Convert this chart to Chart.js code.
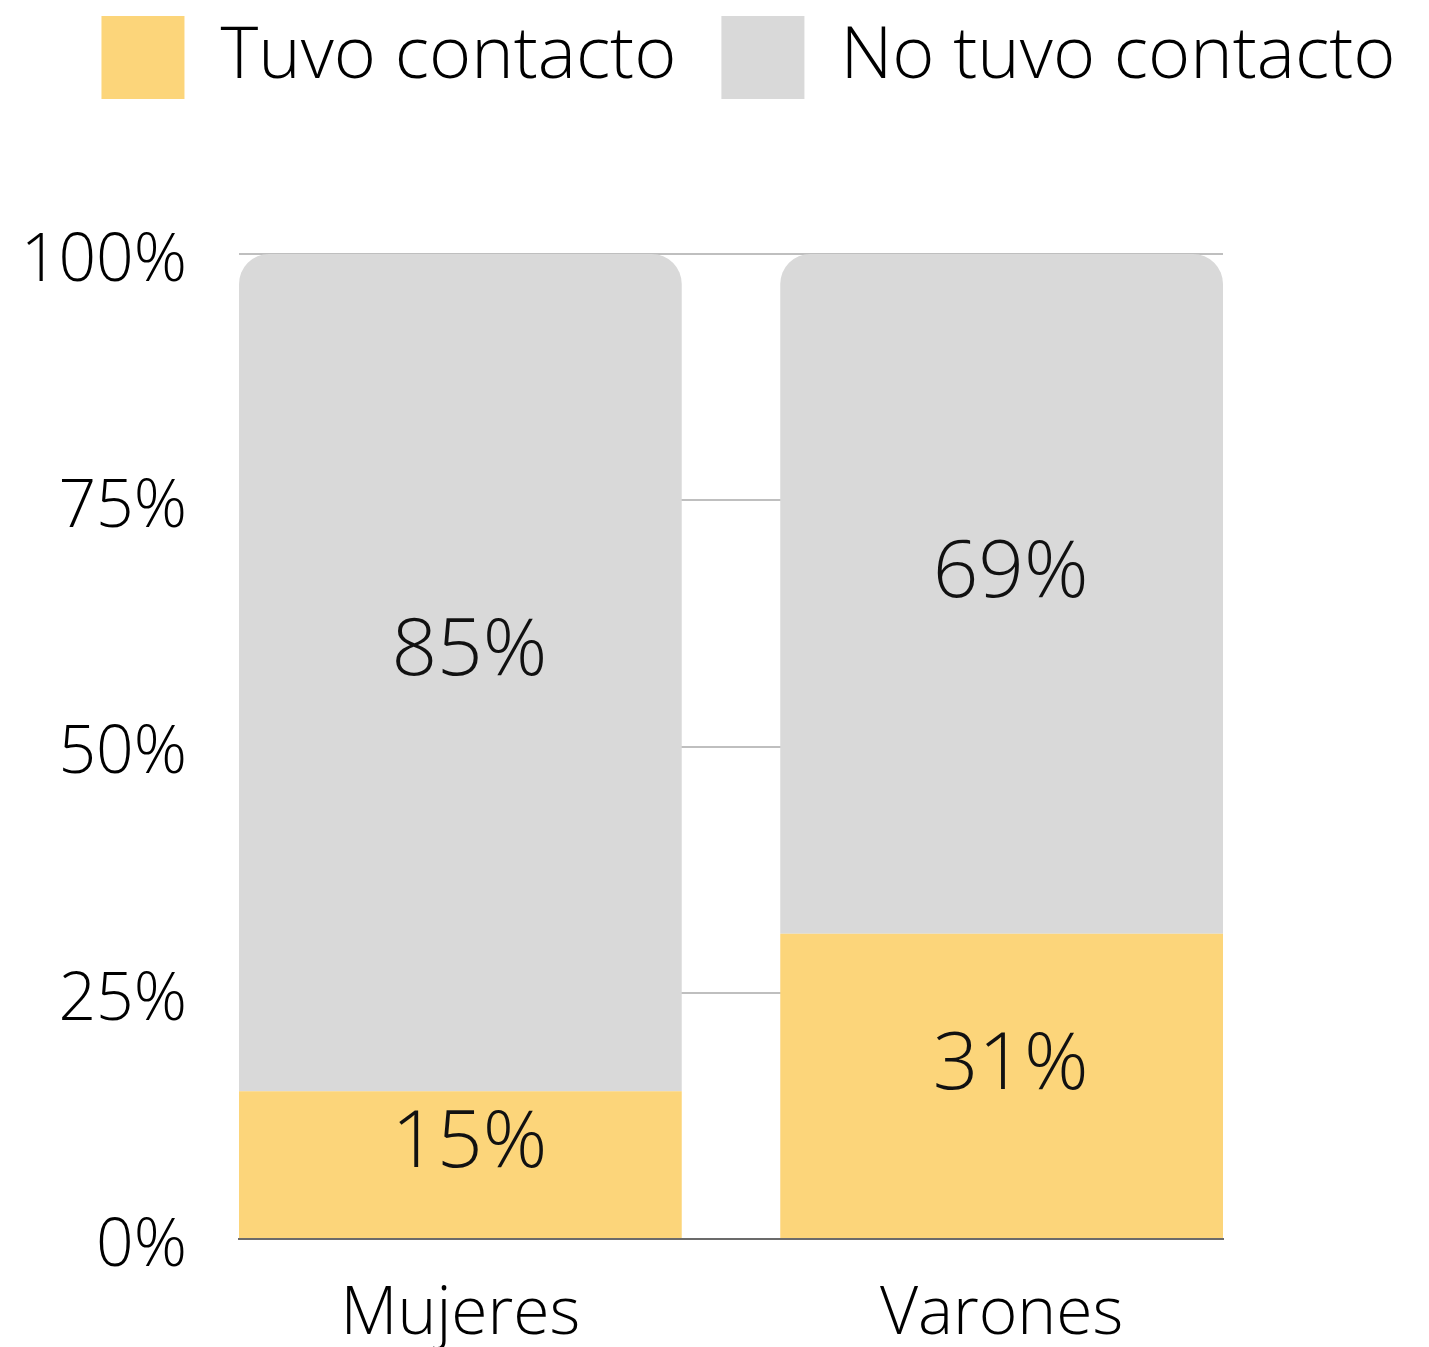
<!DOCTYPE html>
<html>
<head>
<meta charset="utf-8">
<script src="https://cdn.jsdelivr.net/npm/chart.js@4"></script>
<style>
  body { margin: 0; background: #fff; }
  #wrap { width: 1429px; height: 1347px; }
</style>
</head>
<body>
<div id="wrap"><canvas id="chart" width="1429" height="1347"></canvas></div>
<script>
// Data
const categories = ['Mujeres', 'Varones'];
const tuvoContacto = [15, 31];
const noTuvoContacto = [85, 69];
const seriesNames = ['Tuvo contacto', 'No tuvo contacto'];
const yTicks = [0, 25, 50, 75, 100];

const FONT = "'Open Sans', sans-serif";

// Linear index axis so that the bars can sit flush with the plot edges
function toPoints(values) {
    return values.map((v, i) => ({ x: i, y: v }));
}

// Draw value labels in the middle of each segment
const valueLabels = {
    id: 'valueLabels',
    afterDatasetsDraw(chart) {
        const ctx = chart.ctx;
        ctx.save();
        ctx.font = '300 80px ' + FONT;
        ctx.fillStyle = '#111';
        ctx.textAlign = 'center';
        ctx.textBaseline = 'middle';
        chart.data.datasets.forEach((ds, di) => {
            const meta = chart.getDatasetMeta(di);
            meta.data.forEach((bar, i) => {
                const v = ds.data[i].y;
                ctx.fillText(v + '%', bar.x + 9, (bar.y + bar.base) / 2 - 20);
            });
        });
        ctx.restore();
    }
};

// Fixed legend height so the plot starts lower, and nudge it to the right
const legendMargin = {
    id: 'legendMargin',
    beforeInit(chart) {
        const fit = chart.legend.fit;
        chart.legend.fit = function() {
            fit.bind(chart.legend)();
            this.height = 283;
        };
    },
    afterLayout(chart) {
        chart.legend.left += 24;
        chart.legend.right += 24;
    }
};

new Chart(document.getElementById('chart'), {
    type: 'bar',
    data: {
        datasets: [{
            label: seriesNames[0],
            data: toPoints(tuvoContacto),
            backgroundColor: '#FCD57A',
            borderWidth: 0,
            borderSkipped: false
        }, {
            label: seriesNames[1],
            data: toPoints(noTuvoContacto),
            backgroundColor: '#D9D9D9',
            borderWidth: 0,
            borderRadius: { topLeft: 30, topRight: 30, bottomLeft: 0, bottomRight: 0 },
            borderSkipped: false
        }]
    },
    options: {
        responsive: false,
        animation: false,
        layout: {
            padding: { left: 20, right: 0, top: -29, bottom: 0 }
        },
        datasets: {
            bar: {
                barPercentage: 1,
                categoryPercentage: 0.818
            }
        },
        plugins: {
            legend: {
                position: 'top',
                align: 'center',
                labels: {
                    boxWidth: 83,
                    boxHeight: 83,
                    padding: 45,
                    color: '#000',
                    font: { family: FONT, size: 72, weight: '300' }
                }
            },
            tooltip: { enabled: false }
        },
        scales: {
            x: {
                type: 'linear',
                stacked: true,
                offset: false,
                min: -0.409,
                max: 1.409,
                grid: { display: false, drawTicks: false, offset: false },
                border: { display: true, color: '#6b6b6b', width: 2 },
                ticks: {
                    stepSize: 1,
                    includeBounds: false,
                    padding: 37,
                    color: '#000',
                    font: { family: FONT, size: 66, weight: '300' },
                    callback: (value) => categories[value] ?? ''
                },
                afterFit(scale) {
                    scale.height = 108;
                }
            },
            y: {
                stacked: true,
                min: 0,
                max: 100,
                grid: { color: '#BFBFBF', lineWidth: 2, drawTicks: false },
                border: { display: false },
                ticks: {
                    stepSize: 25,
                    padding: 52,
                    labelOffset: 8,
                    color: '#000',
                    font: { family: FONT, size: 66, weight: '300' },
                    callback: (value) => yTicks.includes(value) ? value + '%' : ''
                },
                afterFit(scale) {
                    scale.width = 239 - 20;
                }
            },
            // empty right-hand axis that keeps the plot clear of the right edge
            yRight: {
                position: 'right',
                min: 0,
                max: 100,
                grid: { display: false, drawTicks: false },
                border: { display: false },
                ticks: { display: false },
                afterFit(scale) {
                    scale.width = 206;
                }
            }
        }
    },
    plugins: [valueLabels, legendMargin]
});
</script>
</body>
</html>
